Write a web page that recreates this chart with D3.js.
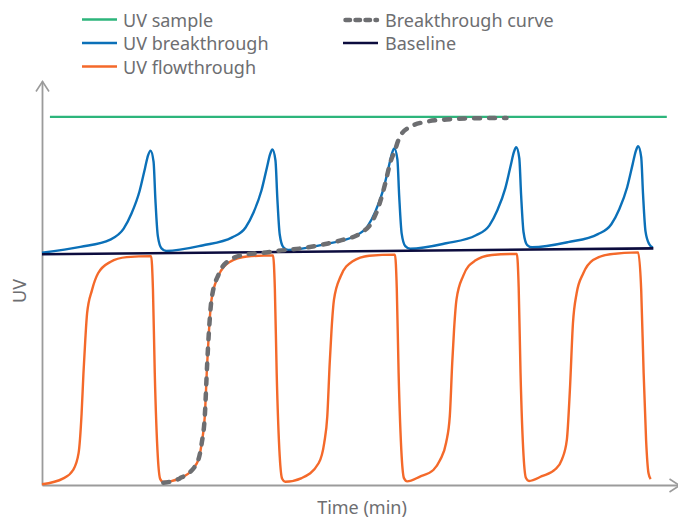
<!DOCTYPE html>
<html>
<head>
<meta charset="utf-8">
<script src="https://cdn.jsdelivr.net/npm/d3@7"></script>
<style>
  body { margin: 0; background: #fff; }
  svg { display: block; font-family: "Noto Sans", sans-serif; }
</style>
</head>
<body>
<div id="chart"></div>
<script>
// Values: [time, UV] pairs (arbitrary units)
const uvSample = [[1.3, 100.5], [102.5, 100.5]];

const baseline = [[0, 63.0], [100.3, 64.6]];

const uvBreakthrough = [
  [0, 63.4], [6.3, 65.0], [11.2, 67.0], [13.4, 70.0], [14.7, 74.2], [16.0, 80.2], [16.9, 86.5], [17.4, 90.0],
  [17.8, 91.3], [18.3, 88.3], [18.6, 78.0], [19.0, 68.0], [19.6, 64.6], [20.4, 63.9],
  [26.3, 65.4], [31.2, 67.6], [33.4, 70.3], [34.7, 74.4], [36.0, 80.4], [36.9, 86.7], [37.4, 90.2],
  [37.8, 91.6], [38.3, 88.6], [38.6, 78.5], [39.0, 68.4], [39.6, 64.9], [40.4, 64.2],
  [46.3, 65.7], [51.2, 67.9], [53.4, 70.6], [54.7, 74.7], [56.0, 80.7], [56.9, 87.0], [57.4, 90.5],
  [57.8, 91.9], [58.3, 88.9], [58.6, 78.8], [59.0, 68.7], [59.6, 65.2], [60.4, 64.5],
  [66.3, 66.0], [71.2, 68.2], [73.4, 70.9], [74.7, 75.0], [76.0, 81.0], [76.9, 87.3], [77.4, 90.8],
  [77.8, 92.2], [78.3, 89.2], [78.6, 79.1], [79.0, 69.0], [79.6, 65.5], [80.4, 64.9],
  [86.3, 66.3], [91.2, 68.5], [93.4, 71.2], [94.7, 75.3], [96.0, 81.3], [96.9, 87.6], [97.4, 91.1],
  [97.8, 92.5], [98.3, 89.5], [98.6, 79.4], [99.0, 69.3], [99.6, 65.8], [100.2, 64.8]
];

const uvFlowthrough = [
  [0, 0.2], [3.5, 1.8], [5.1, 4.1], [6.0, 8.7], [6.5, 19.6], [6.8, 30.5], [7.1, 39.6], [7.4, 46.9],
  [8.2, 53.2], [9.2, 57.8], [11.2, 60.9], [13.9, 62.2], [17.9, 62.5],
  [18.2, 53.5], [18.5, 30.5], [19.0, 7.7], [19.4, 1.6], [19.9, 0.8],
  [22.6, 1.8], [25.4, 5.9], [26.2, 11.4], [26.7, 18.6], [27.1, 33.2], [27.4, 42.3], [27.8, 50.5],
  [28.9, 56.9], [30.8, 60.9], [33.6, 62.4], [37.9, 62.7],
  [38.2, 53.6], [38.5, 30.6], [39.0, 7.8], [39.4, 1.7], [39.9, 0.9],
  [42.6, 1.9], [45.4, 6.0], [46.3, 11.5], [46.8, 18.7], [47.2, 33.3], [47.5, 42.4], [47.9, 50.6],
  [49.0, 57.0], [50.9, 61.0], [53.7, 62.6], [57.9, 62.9],
  [58.2, 53.8], [58.5, 30.7], [59.0, 7.9], [59.4, 1.8], [59.9, 1.0],
  [62.0, 2.3], [64.2, 4.1], [65.3, 6.8], [66.3, 11.6], [66.9, 18.8], [67.3, 33.4], [67.6, 42.5],
  [68.0, 50.7], [69.1, 57.1], [71.0, 61.2], [73.8, 62.8], [77.9, 63.1],
  [78.2, 54.0], [78.5, 30.8], [79.0, 8.0], [79.4, 1.9], [79.9, 1.1],
  [82.0, 2.4], [84.2, 4.3], [85.3, 7.0], [86.1, 12.3], [86.6, 25.9], [87.1, 44.1], [87.7, 52.3],
  [88.8, 57.8], [90.4, 61.4], [93.2, 63.0], [97.8, 63.5],
  [98.3, 53.2], [98.7, 30.5], [99.1, 12.3], [99.5, 3.2], [99.85, 1.6]
];

const breakthroughCurve = [
  [19.9, 0.6], [22.6, 1.8], [25.4, 5.9], [26.2, 11.4], [26.7, 18.6], [27.1, 33.2], [27.4, 42.3],
  [27.8, 50.5], [29.0, 57.6], [30.8, 61.4], [33.6, 63.0], [36.3, 63.4], [38.5, 63.9], [42.5, 64.6],
  [46.5, 65.8], [49.5, 67.0], [52.2, 68.7], [54.3, 72.3], [55.4, 76.9], [56.3, 82.3], [57.1, 87.8],
  [57.9, 91.4], [58.7, 95.1], [60.4, 97.8], [63.1, 99.2], [66.4, 99.8], [70.2, 100.1], [76.2, 100.2]
];

const legendLabels = ["UV sample", "UV breakthrough", "UV flowthrough", "Breakthrough curve", "Baseline"];
const axisLabels = { x: "Time (min)", y: "UV" };

const colors = {
  sample: "#2db57b",
  breakthrough: "#0b70b8",
  flowthrough: "#f4692a",
  curve: "#6d6e71",
  baseline: "#0c0c3e",
  axis: "#9b9b9b",
  text: "#6d6e71"
};

const width = 678, height = 518;

const svg = d3.select("#chart")
  .append("svg")
  .attr("width", width)
  .attr("height", height);

// scales
const x = d3.scaleLinear().domain([0, 104.5]).range([42, 679]);
const y = d3.scaleLinear().domain([0, 110.3]).range([485, 81]);

// open arrowhead for the axes
svg.append("defs").append("marker")
  .attr("id", "arrow")
  .attr("viewBox", "-12 -8 14 16")
  .attr("refX", 0)
  .attr("refY", 0)
  .attr("markerWidth", 14)
  .attr("markerHeight", 16)
  .attr("markerUnits", "userSpaceOnUse")
  .attr("orient", "auto")
  .append("path")
  .attr("d", "M-10,-6.5L0,0L-10,6.5")
  .attr("fill", "none")
  .attr("stroke", colors.axis)
  .attr("stroke-width", 1.6);

// axes: no ticks, only the domain line with an arrow
svg.append("g")
  .attr("transform", `translate(0,${y(0)})`)
  .call(d3.axisBottom(x).tickValues([]).tickSizeOuter(0))
  .select(".domain")
  .attr("stroke", colors.axis)
  .attr("stroke-width", 1.8)
  .attr("marker-end", "url(#arrow)");

svg.append("g")
  .attr("transform", `translate(${x(0)},0)`)
  .call(d3.axisLeft(y).tickValues([]).tickSizeOuter(0))
  .select(".domain")
  .attr("stroke", colors.axis)
  .attr("stroke-width", 1.8)
  .attr("marker-end", "url(#arrow)");

// axis titles
svg.append("text")
  .attr("x", 362)
  .attr("y", 514)
  .attr("text-anchor", "middle")
  .attr("font-size", 18)
  .attr("fill", colors.text)
  .text(axisLabels.x);

svg.append("text")
  .attr("transform", "translate(25.5,291) rotate(-90)")
  .attr("text-anchor", "middle")
  .attr("font-size", 18)
  .attr("fill", colors.text)
  .text(axisLabels.y);

// line generator
const line = d3.line()
  .x(d => x(d[0]))
  .y(d => y(d[1]))
  .curve(d3.curveMonotoneX);

svg.append("path")
  .datum(uvFlowthrough)
  .attr("fill", "none")
  .attr("stroke", colors.flowthrough)
  .attr("stroke-width", 2.4)
  .attr("d", line);

svg.append("path")
  .datum(uvBreakthrough)
  .attr("fill", "none")
  .attr("stroke", colors.breakthrough)
  .attr("stroke-width", 2.4)
  .attr("d", line);

svg.append("path")
  .datum(baseline)
  .attr("fill", "none")
  .attr("stroke", colors.baseline)
  .attr("stroke-width", 2.6)
  .attr("d", line);

svg.append("path")
  .datum(uvSample)
  .attr("fill", "none")
  .attr("stroke", colors.sample)
  .attr("stroke-width", 2.4)
  .attr("d", line);

svg.append("path")
  .datum(breakthroughCurve)
  .attr("fill", "none")
  .attr("stroke", colors.curve)
  .attr("stroke-width", 4.5)
  .attr("stroke-linecap", "round")
  .attr("stroke-dasharray", "6,9")
  .attr("d", line);

// legend
const legendItems = [
  { label: legendLabels[0], color: colors.sample, x: 82, y: 19.5 },
  { label: legendLabels[1], color: colors.breakthrough, x: 82, y: 43 },
  { label: legendLabels[2], color: colors.flowthrough, x: 82, y: 66.5 },
  { label: legendLabels[3], color: colors.curve, x: 343, y: 20, dashed: true },
  { label: legendLabels[4], color: colors.baseline, x: 343, y: 43 }
];

const legend = svg.append("g").attr("class", "legend");

legendItems.forEach(item => {
  const g = legend.append("g").attr("transform", `translate(${item.x},${item.y})`);
  if (item.dashed) {
    g.append("line")
      .attr("x1", 2.5).attr("x2", 34)
      .attr("stroke", item.color)
      .attr("stroke-width", 4.5)
      .attr("stroke-linecap", "round")
      .attr("stroke-dasharray", "4.5,5.5");
  } else {
    g.append("line")
      .attr("x1", 0).attr("x2", 35)
      .attr("stroke", item.color)
      .attr("stroke-width", 2.6);
  }
  g.append("text")
    .attr("x", item.x < 200 ? 41 : 42)
    .attr("y", 7.3)
    .attr("font-size", 18)
    .attr("fill", colors.text)
    .text(item.label);
});
</script>
</body>
</html>
